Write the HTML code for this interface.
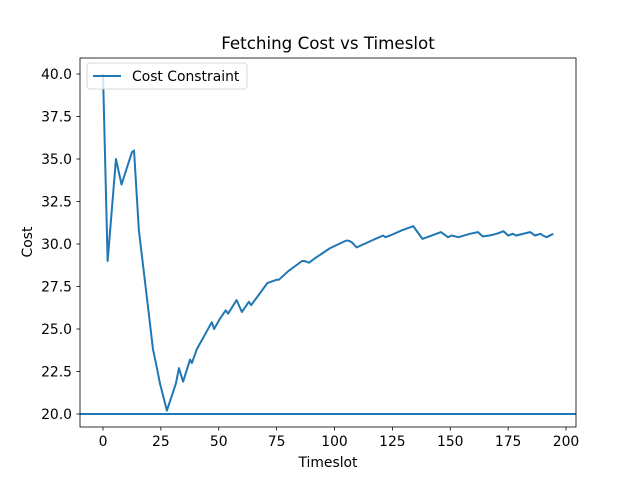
<!DOCTYPE html>
<html><head><meta charset="utf-8"><style>
body{margin:0;background:#fff}
svg{display:block;font-family:"DejaVu Sans","Liberation Sans",sans-serif}
</style></head><body>
<svg id="chart" width="640" height="480" viewBox="0 0 640 480" xmlns="http://www.w3.org/2000/svg">
<rect width="640" height="480" fill="#fff"/>
<text x="328" y="49" font-size="16.7" text-anchor="middle">Fetching Cost vs Timeslot</text>
<g id="ticks"></g>
<g id="series"></g>
<rect x="80" y="58" width="496" height="369" fill="none" stroke="#000" stroke-width="0.8"/>
<text x="328" y="467" font-size="13.9" text-anchor="middle">Timeslot</text>
<text transform="translate(32,242) rotate(-90)" font-size="13.9" text-anchor="middle">Cost</text>
<g>
<rect x="87" y="63" width="160" height="26" rx="3" fill="#fff" fill-opacity="0.8" stroke="#ccc" stroke-width="0.8"/>
<line x1="93" y1="76" x2="121" y2="76" stroke="#1f77b4" stroke-width="2"/>
<text x="132" y="81" font-size="13.9">Cost Constraint</text>
</g>
</svg>
<script>
const xs=[0,2,5.6,8,12.5,13.4,15.5,19,21.6,23,24.6,27.6,31.5,32.8,34.6,37.6,38.4,40.5,47,48,50.5,53,54,57.7,60,63,64,71,73,75,76,80,86,87,89,92,98,105,106,107.5,109.6,116,121,122,124,129,134,138,146,149,150.6,153.5,158.5,162,164,167,170,173,175,177,178.4,184.5,186.6,189,190,191.6,194.5];
const costs=[40,29,35,33.5,35.4,35.5,30.8,26.8,23.8,22.9,21.8,20.2,21.8,22.7,21.9,23.2,23.0,23.8,25.4,25.0,25.6,26.1,25.9,26.7,26.0,26.6,26.4,27.7,27.8,27.9,27.9,28.4,29.0,29.0,28.9,29.2,29.75,30.2,30.2,30.1,29.8,30.2,30.5,30.4,30.5,30.8,31.05,30.3,30.7,30.4,30.5,30.4,30.6,30.7,30.45,30.5,30.6,30.75,30.5,30.6,30.5,30.7,30.5,30.6,30.5,30.4,30.6];
const constraint=[20];
const xTicks=[0,25,50,75,100,125,150,175,200];
const yTicks=[20,22.5,25,27.5,30,32.5,35,37.5,40];
const X=v=>103+v*2.315, Y=v=>414-(v-20)*17;
const NS="http://www.w3.org/2000/svg";
const tg=document.getElementById('ticks'), sg=document.getElementById('series');
function mk(tag,attrs,parent){const e=document.createElementNS(NS,tag);for(const k in attrs)e.setAttribute(k,attrs[k]);parent.appendChild(e);return e;}
xTicks.forEach(t=>{const x=X(t);
 const l=mk('line',{x1:x,x2:x,y1:427,y2:430.5,stroke:'#000','stroke-width':0.8},tg);
 
 
 const tx=mk('text',{x:x,y:446,'font-size':13.9,'text-anchor':'middle'},tg);tx.textContent=t;
 
 });
yTicks.forEach(t=>{const y=Y(t);
 const l=mk('line',{x1:76.5,x2:80,y1:y,y2:y,stroke:'#000','stroke-width':0.8},tg);
 
 
 const tx=mk('text',{x:72,y:y+5,'font-size':13.9,'text-anchor':'end'},tg);tx.textContent=t.toFixed(1);
 
 });
const p=mk('polyline',{points:xs.map((x,i)=>X(x)+','+Y(costs[i])).join(' '),fill:'none',stroke:'#1f77b4','stroke-width':2,'stroke-linejoin':'round'},sg);


const h=mk('line',{x1:80,x2:576,y1:Y(constraint[0]),y2:Y(constraint[0]),stroke:'#1f77b4','stroke-width':2},sg);


</script>
</body></html>
